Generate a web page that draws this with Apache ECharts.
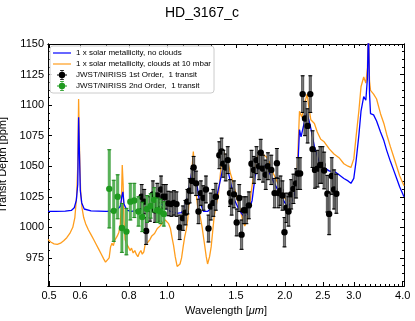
<!DOCTYPE html>
<html>
<head>
<meta charset="utf-8">
<title>HD_3167_c</title>
<script src="https://cdn.jsdelivr.net/npm/echarts@6/dist/echarts.min.js"></script>
<style>
  html, body { margin: 0; padding: 0; background: #fff; }
  #chart { width: 415px; height: 321px; }
</style>
</head>
<body>
<div id="chart"></div>
<script>
// model: 1 x solar metallicity, no clouds
const blueWl = [
  0.497, 0.52, 0.55, 0.57, 0.58, 0.587, 0.592, 0.595, 0.598, 0.601,
  0.606, 0.615, 0.64, 0.70, 0.74, 0.76, 0.768, 0.772, 0.777, 0.79,
  0.81, 0.83, 0.85, 0.87, 0.89, 0.91, 0.93, 0.95, 0.97, 0.99,
  1.00, 1.02, 1.04, 1.06, 1.07, 1.09, 1.11, 1.13, 1.15, 1.165,
  1.18, 1.19, 1.21, 1.24, 1.27, 1.30, 1.32, 1.34, 1.37, 1.40,
  1.43, 1.46, 1.49, 1.53, 1.57, 1.61, 1.65, 1.68, 1.72, 1.78,
  1.83, 1.88, 1.94, 2.00, 2.05, 2.10, 2.15, 2.18, 2.20, 2.25,
  2.28, 2.32, 2.38, 2.45, 2.52, 2.60, 2.67, 2.75, 2.83, 2.90,
  2.95, 3.00, 3.04, 3.09, 3.13, 3.18, 3.22, 3.25, 3.27, 3.29,
  3.31, 3.37, 3.43, 3.51, 3.58, 3.64, 3.72, 3.79, 3.86, 3.93,
  4.03
];
const blueDepth = [
  1013, 1013, 1013.2, 1013.8, 1016, 1022, 1035, 1090, 1060, 1030,
  1020, 1015, 1013.5, 1013, 1013.5, 1017, 1026, 1029, 1019, 1014,
  1013, 1013.5, 1015, 1014, 1017, 1015, 1018, 1016, 1019, 1016,
  1014.5, 1013, 1012.5, 1011.5, 1011, 1012, 1017, 1026, 1040, 1051,
  1044, 1037, 1022, 1013, 1013, 1016, 1019, 1025, 1039, 1053,
  1047, 1034, 1022, 1014, 1009, 1011, 1022, 1042, 1053, 1050,
  1044, 1036, 1028, 1020, 1018, 1023, 1036, 1080, 1074, 1088,
  1093, 1084, 1066, 1053, 1049, 1046, 1046, 1043, 1040, 1038,
  1036, 1040, 1054, 1075, 1095, 1107, 1104, 1122, 1165, 1110,
  1093, 1092, 1087, 1078, 1071, 1063, 1054, 1047, 1040, 1033,
  1025
];

// model: 1 x solar metallicity, clouds at 10 mbar
const orangeWl = [
  0.497, 0.505, 0.515, 0.525, 0.535, 0.545, 0.555, 0.565, 0.575, 0.582,
  0.588, 0.592, 0.595, 0.598, 0.602, 0.607, 0.613, 0.62, 0.63, 0.64,
  0.65, 0.66, 0.67, 0.68, 0.69, 0.697, 0.703, 0.712, 0.718, 0.724,
  0.73, 0.735, 0.741, 0.747, 0.754, 0.76, 0.765, 0.769, 0.773, 0.777,
  0.782, 0.79, 0.797, 0.805, 0.812, 0.82, 0.828, 0.835, 0.843, 0.85,
  0.858, 0.865, 0.873, 0.88, 0.888, 0.895, 0.905, 0.915, 0.93, 0.945,
  0.96, 0.975, 0.99, 1.0, 1.01, 1.021, 1.03, 1.04, 1.05, 1.062,
  1.07, 1.08, 1.09, 1.1, 1.11, 1.12, 1.13, 1.14, 1.15, 1.16,
  1.168, 1.18, 1.19, 1.2, 1.216, 1.23, 1.245, 1.26, 1.27, 1.285,
  1.297, 1.31, 1.32, 1.34, 1.355, 1.375, 1.39, 1.4, 1.42, 1.432,
  1.45, 1.466, 1.49, 1.51, 1.52, 1.545, 1.56, 1.58, 1.6, 1.62,
  1.64, 1.66, 1.68, 1.705, 1.73, 1.75, 1.79, 1.83, 1.87, 1.92,
  1.96, 2.0, 2.05, 2.1, 2.15, 2.18, 2.21, 2.25, 2.28, 2.3,
  2.33, 2.38, 2.42, 2.47, 2.52, 2.6, 2.67, 2.75, 2.83, 2.9,
  2.95, 3.0, 3.04, 3.09, 3.13, 3.18, 3.22, 3.25, 3.27, 3.29,
  3.31, 3.37, 3.43, 3.51, 3.58, 3.64, 3.72, 3.79, 3.86, 3.93,
  4.03
];
const orangeDepth = [
  990, 988, 986.5, 986, 987, 989, 991.5, 995, 1000, 1008,
  1025, 1050, 1105, 1065, 1030, 1016, 1008, 1003, 998, 994,
  990, 986, 982, 978, 974, 971.5, 971, 975, 984, 987,
  985, 989, 988, 993, 996, 1002, 1020, 1051, 1035, 1005,
  990, 986, 984, 981, 983, 979, 981, 978, 976, 979,
  981, 978, 980, 986, 985, 988, 990, 993, 995, 999,
  1001, 1004, 1006, 1005, 1003, 999, 992, 985, 976, 968,
  967, 970, 975, 984, 992, 998, 1006, 1022, 1036, 1050,
  1062, 1040, 1025, 1015, 1009, 1000, 988, 976, 970, 976,
  984, 998, 1009, 1020, 1028, 1050, 1058, 1061, 1055, 1053,
  1045, 1040, 1031, 1024, 1020, 1012, 1006, 1001, 1005, 1012,
  1028, 1040, 1048, 1058, 1061, 1062, 1058, 1053, 1044, 1036,
  1032, 1024, 1021, 1025, 1045, 1095, 1090, 1102, 1109, 1100,
  1088, 1085, 1078, 1072, 1070, 1064, 1060, 1057, 1052, 1050,
  1049, 1056, 1074, 1095, 1115, 1123, 1118, 1130, 1165, 1120,
  1112, 1109, 1105, 1093, 1085, 1076, 1066, 1058, 1050, 1042,
  1034
];

// JWST/NIRISS 1st order
const order1Wl = [
  0.862, 0.875, 0.885, 0.905, 0.921, 0.932, 0.945, 0.958, 0.966, 0.980,
  0.994, 1.009, 1.027, 1.042, 1.058, 1.078, 1.099, 1.115, 1.128, 1.143,
  1.159, 1.170, 1.187, 1.204, 1.221, 1.240, 1.258, 1.277, 1.294, 1.314,
  1.333, 1.361, 1.379, 1.393, 1.413, 1.430, 1.449, 1.463, 1.483, 1.507,
  1.530, 1.551, 1.572, 1.595, 1.619, 1.644, 1.669, 1.693, 1.719, 1.736,
  1.759, 1.788, 1.811, 1.847, 1.883, 1.909, 1.927, 1.950, 1.973, 1.996,
  2.020, 2.044, 2.076, 2.104, 2.137, 2.160, 2.188, 2.221, 2.252, 2.287,
  2.323, 2.354, 2.388, 2.424, 2.462, 2.495, 2.520, 2.569, 2.595, 2.636,
  2.672, 2.708
];
const order1Depth = [
  1025, 1021, 997, 1015, 1027, 1014, 1026, 1015, 1031, 1025,
  1025, 1019.5, 1019, 1020, 1019, 1000, 1007.5, 1012, 1021, 1030,
  1038, 1049, 1036, 1013, 1028, 1024, 1031, 999, 1017, 1020,
  1025, 1059, 1062, 1052, 1049, 1055, 1028, 1021, 1027, 1004,
  1024, 994, 1014, 1014, 1018, 1052, 1047, 1055, 1050, 1061,
  1048, 1043, 1050, 1047, 1028, 1052.5, 1028, 1030, 1026, 996,
  1016, 1013, 1027, 1031.5, 1036, 1044, 1044, 1109, 1089, 1083,
  1109, 1064, 1047, 1048, 1051, 1051, 1046.5, 1027.5, 1011, 1042,
  1031, 1027.5
];
const order1Err = [
  10, 10, 11, 10, 11, 10, 10, 10, 11, 10,
  10, 10, 10, 10, 10, 10, 10, 10, 10, 10,
  10, 9, 10, 10, 10, 10, 11, 11, 11, 11,
  11, 11, 11, 11, 11, 11, 11, 11, 11, 11,
  11, 12, 11, 11, 11, 11, 11, 11, 11, 11,
  11, 12, 11, 12, 12, 12, 12, 12, 12, 12,
  12, 12, 12, 12, 12, 13, 13, 15, 14, 14,
  15, 15, 15, 15, 15, 15, 15, 15, 17, 15,
  16, 16
];

// JWST/NIRISS 2nd order
const order2Wl = [0.7125, 0.7315, 0.7485, 0.7675, 0.788, 0.8065, 0.8255, 0.846, 0.865, 0.8895, 0.909, 0.9275, 0.945, 0.963, 0.982];
const order2Depth = [1031.5, 1013.5, 1025, 999.5, 996.5, 1021, 1022, 1013, 1008.5, 1015, 1017.5, 1022.5, 1014, 1013, 1011];
const order2Err = [32, 25, 18, 20, 19, 15, 14, 12, 12, 11, 10, 10, 10, 10, 10];

// axis ticks
const xTickVals = [0.5, 0.6, 0.8, 1.0, 1.5, 2.0, 2.5, 3.0, 4.0];
const xTickLabels = ['0.5', '0.6', '0.8', '1.0', '1.5', '2.0', '2.5', '3.0', '4.0'];
const xMinorVals = [0.7, 0.9, 1.1, 1.2, 1.3, 1.4, 1.6, 1.7, 1.8, 1.9, 2.1, 2.2, 2.3, 2.4,
  2.6, 2.7, 2.8, 2.9, 3.1, 3.2, 3.3, 3.4, 3.5, 3.6, 3.7, 3.8, 3.9];
const yTickVals = [975, 1000, 1025, 1050, 1075, 1100, 1125, 1150];

const seriesNames = [
  '1 x solar metallicity, no clouds',
  '1 x solar metallicity, clouds at 10 mbar',
  'JWST/NIRISS 1st Order,  1 transit',
  'JWST/NIRISS 2nd Order,  1 transit'
];

const FONT = '"Liberation Sans", Arial, Helvetica, sans-serif';
const lg = v => Math.log10(v);
const xMin = lg(0.497), xMax = lg(4.03);
const yMin = 952, yMax = 1150;

const yMinorVals = [];
for (let v = 956.25; v < yMax; v += 6.25) {
  if (v % 25 !== 0) yMinorVals.push(v);
}

function xAxisOf(pos, ticks, len, withLabels) {
  const ax = {
    type: 'value', position: pos, min: xMin, max: xMax,
    axisLine: { show: true, onZero: false, lineStyle: { color: '#000', width: 1 } },
    axisTick: { show: true, inside: true, length: len, customValues: ticks.map(lg),
      lineStyle: { color: '#000', width: 1 } },
    axisLabel: { show: false },
    splitLine: { show: false }
  };
  if (withLabels) {
    ax.axisLabel = {
      show: true, customValues: ticks.map(lg), margin: 4,
      color: '#000', fontSize: 11, fontFamily: FONT,
      formatter: v => {
        const i = xTickVals.findIndex(t => Math.abs(lg(t) - v) < 1e-6);
        return i >= 0 ? xTickLabels[i] : '';
      }
    };
    ax.name = 'Wavelength [{i|μm}]';
    ax.nameLocation = 'middle';
    ax.nameGap = 14;
    ax.nameTextStyle = { color: '#000', fontSize: 11, fontFamily: FONT,
      rich: { i: { fontStyle: 'italic', fontSize: 11, fontFamily: FONT, color: '#000' } } };
  }
  return ax;
}

function yAxisOf(pos, ticks, len, withLabels) {
  const ax = {
    type: 'value', position: pos, min: yMin, max: yMax,
    axisLine: { show: true, onZero: false, lineStyle: { color: '#000', width: 1 } },
    axisTick: { show: true, inside: true, length: len, customValues: ticks,
      lineStyle: { color: '#000', width: 1 } },
    axisLabel: { show: false },
    splitLine: { show: false }
  };
  if (withLabels) {
    ax.axisLabel = { show: true, customValues: ticks, margin: 4,
      color: '#000', fontSize: 11, fontFamily: FONT,
      formatter: v => String(Math.round(v)) };
    ax.name = 'Transit Depth [ppm]';
    ax.nameLocation = 'middle';
    ax.nameGap = 31;
    ax.nameRotate = 90;
    ax.nameTextStyle = { color: '#000', fontSize: 11, fontFamily: FONT };
  }
  return ax;
}

function errorBars(barFill, edge, dot) {
  return function (params, api) {
    const x = api.value(0), y = api.value(1), e = api.value(2);
    const c = api.coord([x, y]);
    const top = api.coord([x, y + e])[1];
    const bot = api.coord([x, y - e])[1];
    return {
      type: 'group',
      children: [
        { type: 'rect', shape: { x: c[0] - 1.1, y: top, width: 2.2, height: bot - top },
          style: { fill: barFill, stroke: edge, lineWidth: 0.5 } },
        { type: 'line', shape: { x1: c[0] - 2, y1: top, x2: c[0] + 2, y2: top },
          style: { stroke: edge, lineWidth: 1 } },
        { type: 'line', shape: { x1: c[0] - 2, y1: bot, x2: c[0] + 2, y2: bot },
          style: { stroke: edge, lineWidth: 1 } },
        { type: 'circle', shape: { cx: c[0], cy: c[1], r: 3.2 }, style: { fill: dot } }
      ]
    };
  };
}

const LINE_ICON = 'path://M0,0 M18,10 M0,4.4 L18,4.4 L18,5.6 L0,5.6 Z';
const ERR_ICON = 'path://M0,0 M18,10 M4,4.6 L14,4.6 L14,5.4 L4,5.4 Z M8.6,0 L9.4,0 L9.4,10 L8.6,10 Z ' +
  'M7,0 L11,0 L11,0.8 L7,0.8 Z M7,9.2 L11,9.2 L11,10 L7,10 Z M12.2,5 A3.2,3.2 0 1 1 5.8,5 A3.2,3.2 0 1 1 12.2,5 Z';

const chart = echarts.init(document.getElementById('chart'));

const option = {
  animation: false,
  backgroundColor: '#fff',
  title: {
    text: 'HD_3167_c', left: 165, top: 6, padding: 0,
    textStyle: { fontSize: 14, fontWeight: 'normal', color: '#000', fontFamily: FONT }
  },
  grid: { left: 48, right: 11, top: 44, bottom: 35, outerBoundsMode: 'none', containLabel: false },
  legend: {
    orient: 'vertical', left: 50, top: 46, padding: [2, 3, 2, 3],
    itemGap: 1, itemWidth: 18, itemHeight: 10,
    backgroundColor: 'rgba(255,255,255,0.85)', borderColor: '#cccccc', borderWidth: 1, borderRadius: 3,
    selectedMode: false,
    textStyle: { fontSize: 8, color: '#000', fontFamily: FONT },
    data: [
      { name: seriesNames[0], icon: LINE_ICON },
      { name: seriesNames[1], icon: LINE_ICON },
      { name: seriesNames[2], icon: ERR_ICON },
      { name: seriesNames[3], icon: ERR_ICON }
    ]
  },
  xAxis: [
    xAxisOf('bottom', xTickVals, 4, true),
    xAxisOf('bottom', xMinorVals, 2, false),
    xAxisOf('top', xTickVals, 4, false),
    xAxisOf('top', xMinorVals, 2, false)
  ],
  yAxis: [
    yAxisOf('left', yTickVals, 4, true),
    yAxisOf('left', yMinorVals, 2, false),
    yAxisOf('right', yTickVals, 4, false),
    yAxisOf('right', yMinorVals, 2, false)
  ],
  series: [
    {
      name: seriesNames[1], type: 'line', symbol: 'none', silent: true, z: 2,
      data: orangeWl.map((w, i) => [lg(w), orangeDepth[i]]),
      itemStyle: { color: '#ff9d1c' },
      lineStyle: { color: '#ff9d1c', width: 1.3 }
    },
    {
      name: seriesNames[0], type: 'line', symbol: 'none', silent: true, z: 3,
      data: blueWl.map((w, i) => [lg(w), blueDepth[i]]),
      itemStyle: { color: '#0000ff' },
      lineStyle: { color: '#0000ff', width: 1.3 }
    },
    {
      name: seriesNames[2], type: 'custom', z: 5, silent: true,
      encode: { x: 0, y: 1 },
      itemStyle: { color: '#000' },
      renderItem: errorBars('#7a7a7a', '#000', '#000'),
      data: order1Wl.map((w, i) => [lg(w), order1Depth[i], order1Err[i]])
    },
    {
      name: seriesNames[3], type: 'custom', z: 6, silent: true,
      encode: { x: 0, y: 1 },
      itemStyle: { color: '#1f9a1f' },
      renderItem: errorBars('#5cb85c', '#208a20', '#1f9a1f'),
      data: order2Wl.map((w, i) => [lg(w), order2Depth[i], order2Err[i]])
    }
  ]
};

chart.setOption(option);
</script>
</body>
</html>
